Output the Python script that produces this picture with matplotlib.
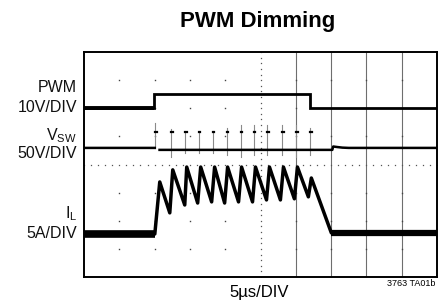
import matplotlib
matplotlib.use("Agg")
import matplotlib.pyplot as plt
import numpy as np

nan = float("nan")

# ---- data (time in µs, levels in screen divisions from bottom) ----
pwm_t = [0, 9.9, 9.9, 32.06, 32.06, 50]
pwm_v = [6.0, 6.0, 6.51, 6.51, 6.01, 6.01]

vsw_t = [0, 10.03, nan, 10.7, 35.17, 35.3, 35.9, 36.6, 37.5, 50]
vsw_v = [4.59, 4.59, nan, 4.52, 4.52, 4.64, 4.62, 4.60, 4.59, 4.59]

spike_t = [10.03, 12.29, 14.27, 16.24, 18.22, 20.20, 22.18, 24.01, 25.99, 28.11, 30.08, 32.06]
spike_top = [5.48, 5.25, 5.2, 5.2, 5.2, 5.3, 5.4, 5.4, 5.4, 5.4, 5.4, 5.3]
spike_bot = [4.59, 4.27, 4.4, 4.4, 4.4, 4.35, 4.27, 4.35, 4.35, 4.35, 4.27, 4.35]
spike_hi = [5.16, 5.16, 5.16, 5.16, 5.16, 5.16, 5.16, 5.16, 5.16, 5.16, 5.16, 5.16]

il_t = [0, 10.03, 10.73, 12.15, 12.57, 14.27, 14.55, 16.10, 16.53, 18.08, 18.50,
        19.92, 20.34, 21.89, 22.32, 23.87, 24.29, 25.85, 26.27, 27.82, 28.25,
        29.80, 30.23, 31.78, 32.20, 35.03, 50]
il_v = [1.53, 1.53, 3.38, 2.28, 3.81, 2.56, 3.91, 2.63, 3.91, 2.67, 3.91,
        2.63, 3.91, 2.67, 3.91, 2.67, 3.91, 2.74, 3.91, 2.74, 3.91,
        2.78, 3.91, 2.85, 3.52, 1.57, 1.57]

solid_div = [6, 7, 8, 9]  # solid vertical lines (division index)

W, H = 447, 301
fig = plt.figure(figsize=(W / 100, H / 100), dpi=100)
L, R, T, B = 84, 437, 52, 277
ax = fig.add_axes([L / W, 1 - B / H, (R - L) / W, (B - T) / H])
ax.set_xlim(0, 50)
ax.set_ylim(0, 8)
ax.set_xticks([])
ax.set_yticks([])
for s in ax.spines.values():
    s.set_linewidth(1.4)
    s.set_color("black")

for d in solid_div:
    ax.axvline(d * 5, color="#6e6e6e", lw=0.8, zorder=1)

cx = np.arange(0, 50.01, 1.0)
ax.plot(cx, np.full_like(cx, 4.0), ls="none", marker="s", ms=0.9, color="#555555", mew=0, zorder=1)
cy = np.arange(0, 8.01, 0.2)
ax.plot(np.full_like(cy, 25.0), cy, ls="none", marker="s", ms=0.9, color="#555555", mew=0, zorder=1)

for i in range(1, 10):
    for j in range(1, 8):
        if i == 5 or j == 4:
            continue
        ax.plot([i * 5], [j], ls="none", marker="s", ms=1.0, color="#444444", mew=0, zorder=1)

# traces
ax.plot(pwm_t, pwm_v, color="black", lw=2.0, solid_joinstyle="miter", zorder=3)
ax.plot(pwm_t[:2], pwm_v[:2], color="black", lw=2.8, solid_capstyle="butt", zorder=3)

ax.plot(vsw_t, vsw_v, color="black", lw=1.8, zorder=3)
for t, tp, bt, hi in zip(spike_t, spike_top, spike_bot, spike_hi):
    ax.plot([t, t], [bt, tp], color="#8a8a8a", lw=0.8, zorder=2)
    ax.plot([t, t + 0.25], [hi, hi], color="black", lw=1.6, zorder=3)

ax.plot(il_t, il_v, color="black", lw=2.5, zorder=3)
ax.plot(il_t[:2], il_v[:2], color="black", lw=5.5, solid_capstyle="butt", zorder=3)
ax.plot(il_t[-2:], il_v[-2:], color="black", lw=4.5, solid_capstyle="butt", zorder=3)

# texts
fam = ["Liberation Sans Narrow", "Liberation Sans", "DejaVu Sans"]
def px(x, y):
    return x / W, 1 - y / H

fig.text(*px(258, 21), "PWM Dimming", family=fam, weight="bold", fontsize=16,
         ha="center", va="center")
lab = dict(family=fam, fontsize=11.5, ha="right", va="center", color="#111111")
fig.text(*px(77, 88), "PWM", **lab)
fig.text(*px(77, 108), "10V/DIV", **lab)
fig.text(*px(77, 136), r"V$_{\mathregular{SW}}$", **lab)
fig.text(*px(77, 154), "50V/DIV", **lab)
fig.text(*px(77, 214), r"I$_{\mathregular{L}}$", **lab)
fig.text(*px(77, 234), "5A/DIV", **lab)
fig.text(*px(259, 292), "5µs/DIV", family=fam, fontsize=12, ha="center", va="center")
fig.text(*px(435, 284), "3763 TA01b", family=fam, fontsize=6.5, ha="right", va="center")

fig.savefig("out.png", dpi=100)
